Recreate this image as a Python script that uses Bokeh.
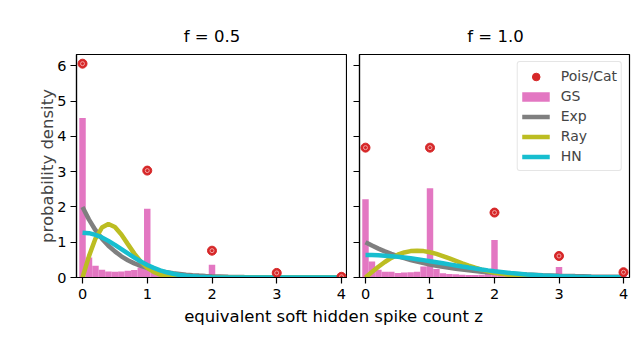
from bokeh.plotting import figure
from bokeh.layouts import row, column
from bokeh.models import (Range1d, FixedTicker, Legend, LegendItem, Label)
from bokeh.embed import file_html
from bokeh.resources import INLINE

# ---------------- data ----------------
panel_titles = ["f = 0.5", "f = 1.0"]
x_label = "equivalent soft hidden spike count z"
y_label = "probability density"
x_ticks = [0, 1, 2, 3, 4]
y_ticks = [0, 1, 2, 3, 4, 5, 6]

# Poisson / categorical point masses (density)
pois_z = [0, 1, 2, 3, 4]
pois_f05 = [6.06, 3.03, 0.76, 0.13, 0.02]
pois_f10 = [3.68, 3.68, 1.84, 0.61, 0.15]

# GS histogram (bins of width 0.1 centred on 0.0 ... 4.0)
gs_f05 = [4.52, 0.57, 0.33, 0.22, 0.17, 0.16, 0.17, 0.19, 0.21, 0.28,
          1.95, 0.16, 0.10, 0.07, 0.05, 0.04, 0.04, 0.04, 0.05, 0.07,
          0.36, 0.03, 0.02, 0.01, 0.01, 0.01, 0.01, 0.01, 0.01, 0.02,
          0.06, 0.005, 0.005, 0.005, 0.005, 0.005, 0.005, 0.005, 0.005, 0.005,
          0.01]
gs_f10 = [2.22, 0.45, 0.22, 0.16, 0.16, 0.13, 0.14, 0.15, 0.16, 0.31,
          2.53, 0.24, 0.12, 0.10, 0.09, 0.08, 0.07, 0.07, 0.08, 0.12,
          1.06, 0.09, 0.05, 0.04, 0.03, 0.03, 0.03, 0.03, 0.03, 0.05,
          0.30, 0.03, 0.01, 0.01, 0.01, 0.01, 0.01, 0.01, 0.01, 0.02,
          0.04]
gs_bin_width = 0.1

# continuous relaxations
curve_z = [0.0, 0.1, 0.2, 0.3, 0.4, 0.5, 0.6, 0.7, 0.8, 0.9,
           1.0, 1.1, 1.2, 1.3, 1.4, 1.5, 1.6, 1.7, 1.8, 1.9,
           2.0, 2.25, 2.5, 2.75, 3.0, 3.25, 3.5, 3.75, 4.0]
exp_f05 = [2.00, 1.64, 1.34, 1.10, 0.90, 0.74, 0.60, 0.49, 0.40, 0.33,
           0.27, 0.22, 0.18, 0.15, 0.12, 0.10, 0.08, 0.067, 0.055, 0.045,
           0.037, 0.022, 0.013, 0.008, 0.005, 0.003, 0.002, 0.001, 0.001]
ray_f05 = [0.0, 0.606, 1.103, 1.415, 1.516, 1.431, 1.218, 0.946, 0.677, 0.448,
           0.275, 0.157, 0.083, 0.041, 0.019, 0.008, 0.003, 0.001, 0.0005, 0.0,
           0.0, 0.0, 0.0, 0.0, 0.0, 0.0, 0.0, 0.0, 0.0]
hn_f05 = [1.27, 1.257, 1.210, 1.135, 1.038, 0.926, 0.805, 0.682, 0.564, 0.454,
          0.356, 0.273, 0.204, 0.148, 0.105, 0.073, 0.049, 0.032, 0.021, 0.013,
          0.008, 0.002, 0.0004, 0.0, 0.0, 0.0, 0.0, 0.0, 0.0]
exp_f10 = [1.0, 0.905, 0.819, 0.741, 0.670, 0.607, 0.549, 0.497, 0.449, 0.407,
           0.368, 0.333, 0.301, 0.273, 0.247, 0.223, 0.202, 0.183, 0.165, 0.150,
           0.135, 0.105, 0.082, 0.064, 0.050, 0.039, 0.030, 0.024, 0.018]
ray_f10 = [0.0, 0.156, 0.304, 0.439, 0.554, 0.645, 0.710, 0.748, 0.760, 0.748,
           0.716, 0.668, 0.608, 0.542, 0.472, 0.402, 0.336, 0.276, 0.222, 0.175,
           0.136, 0.066, 0.029, 0.011, 0.004, 0.0013, 0.0004, 0.0001, 0.0]
hn_f10 = [0.637, 0.635, 0.629, 0.619, 0.605, 0.588, 0.568, 0.545, 0.519, 0.492,
          0.463, 0.433, 0.403, 0.372, 0.341, 0.311, 0.282, 0.254, 0.227, 0.202,
          0.178, 0.127, 0.087, 0.057, 0.036, 0.022, 0.013, 0.007, 0.004]

gs_centers = [round(gs_bin_width * i, 1) for i in range(len(gs_f05))]

# ---------------- style ----------------
FONT = "DejaVu Sans"
C_POIS = "#d62728"
C_GS = "#e377c2"
C_EXP = "#7f7f7f"
C_RAY = "#bcbd22"
C_HN = "#17becf"
LW = 4.5
FRAME_H = 223
TICK_FS = "14.5px"
LABEL_FS = "16.5px"
TOTAL_W = 637


def make_panel(pois, gs, ex, ray, hn, left, frame_w):
    p = figure(frame_width=frame_w, frame_height=FRAME_H, title=None,
               x_range=Range1d(-0.093, 4.093), y_range=Range1d(0, 6.32),
               output_backend="svg", toolbar_location=None,
               min_border_left=76 if left else 12,
               min_border_right=0 if left else 8,
               min_border_top=0, min_border_bottom=26)
    p.grid.visible = False
    p.outline_line_color = "black"
    p.outline_line_width = 1.2
    p.background_fill_color = "white"
    p.border_fill_color = "white"

    rb = p.vbar(x=gs_centers, top=gs, width=gs_bin_width, bottom=0,
                fill_color=C_GS, line_color=None)
    re = p.line(curve_z, ex, line_color=C_EXP, line_width=LW)
    rr = p.line(curve_z, ray, line_color=C_RAY, line_width=LW)
    rh = p.line(curve_z, hn, line_color=C_HN, line_width=LW)
    rp1 = p.scatter(pois_z, pois, marker="circle", size=9,
                    fill_color=C_POIS, line_color=C_POIS)
    p.scatter(pois_z, pois, marker="circle", size=4,
              fill_color=None, line_color="#f3a3a3", line_width=1)

    for ax in p.xaxis + p.yaxis:
        ax.axis_line_color = "black"
        ax.axis_line_width = 1.2
        ax.major_tick_line_width = 1.2
        ax.major_tick_out = 6
        ax.major_tick_in = 0
        ax.minor_tick_line_color = None
        ax.major_label_text_font = FONT
        ax.major_label_text_font_size = TICK_FS
        ax.major_label_text_color = "black"
        ax.axis_label_text_font = FONT
        ax.axis_label_text_font_size = LABEL_FS
        ax.axis_label_text_font_style = "normal"
    p.xaxis.ticker = FixedTicker(ticks=x_ticks)
    p.yaxis.ticker = FixedTicker(ticks=y_ticks)
    p.xaxis.major_label_standoff = 5
    if left:
        p.yaxis.axis_label = y_label
        p.yaxis.major_label_standoff = 4
        p.yaxis.axis_label_standoff = -3
    else:
        p.yaxis.major_label_text_font_size = "1px"
        p.yaxis.major_label_text_color = None
        p.yaxis.major_label_standoff = 0
    return p, (rp1, rb, re, rr, rh)


p1, _ = make_panel(pois_f05, gs_f05, exp_f05, ray_f05, hn_f05, True, 271)
p2, rs = make_panel(pois_f10, gs_f10, exp_f10, ray_f10, hn_f10, False, 270)

rp1, rb, re, rr, rh = rs
# legend proxy for the histogram (drawn outside the visible range):
# a thick butt-capped stroke looks like the histogram patch
r_gs_proxy = p2.line([10, 11], [10, 10], line_color=C_GS, line_width=9.5,
                     line_cap="butt")
legend = Legend(items=[
    LegendItem(label="Pois/Cat", renderers=[rp1]),
    LegendItem(label="GS", renderers=[r_gs_proxy]),
    LegendItem(label="Exp", renderers=[re]),
    LegendItem(label="Ray", renderers=[rr]),
    LegendItem(label="HN", renderers=[rh]),
], location="top_right")
legend.margin = 7
legend.padding = 4
legend.spacing = 0
legend.label_height = 20
legend.glyph_width = 28
legend.glyph_height = 19
legend.label_standoff = 11
legend.label_text_font = FONT
legend.label_text_font_size = "14px"
legend.border_line_color = "#cccccc"
legend.border_line_width = 1
legend.background_fill_alpha = 0.8
try:
    legend.border_radius = 3
except Exception:
    pass
p2.add_layout(legend)

# panel titles
pt = figure(width=TOTAL_W, height=54, x_range=Range1d(0, 1), y_range=Range1d(0, 1),
            output_backend="svg", toolbar_location=None, title=None,
            x_axis_location=None, y_axis_location=None, min_border=0)
pt.outline_line_color = None
pt.grid.visible = False
for tx, cx in zip(panel_titles, [211.5, 495]):
    pt.add_layout(Label(x=cx, y=18, x_units="screen", y_units="screen",
                        text=tx, text_font=FONT, text_font_size=LABEL_FS,
                        text_align="center", text_baseline="alphabetic",
                        text_color="black"))

# shared x-axis label
px = figure(width=TOTAL_W, height=42, x_range=Range1d(0, 1), y_range=Range1d(0, 1),
            output_backend="svg", toolbar_location=None, title=None,
            x_axis_location=None, y_axis_location=None, min_border=0)
px.outline_line_color = None
px.grid.visible = False
px.add_layout(Label(x=333, y=29, x_units="screen", y_units="screen",
                    text=x_label,
                    text_font=FONT, text_font_size=LABEL_FS,
                    text_align="center", text_baseline="alphabetic",
                    text_color="black"))

layout = column(pt, row(p1, p2), px)
open("out.html", "w").write(file_html(layout, INLINE))
